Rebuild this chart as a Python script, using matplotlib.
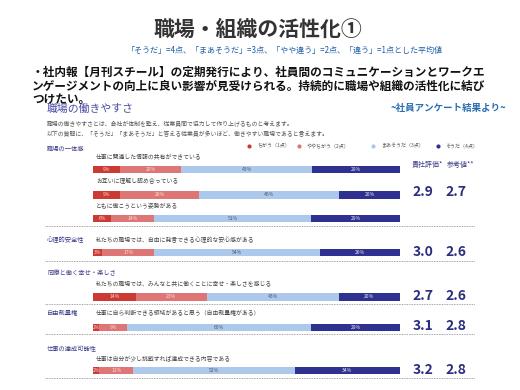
import matplotlib
matplotlib.use("Agg")
import matplotlib.pyplot as plt

plt.rcParams['font.family'] = ['Noto Sans CJK JP', 'DejaVu Sans']

# data
questions = [
    "仕事に関連した情報の共有ができている",
    "お互いに理解し認め合っている",
    "ともに働こうという姿勢がある",
    "私たちの職場では、自由に発言できる心理的な安心感がある",
    "私たちの職場では、みんなと共に働くことに幸せ・楽しさを感じる",
    "仕事に自ら判断できる領域があると思う（自由裁量権がある）",
    "仕事は自分が少し挑戦すれば達成できる内容である",
]
chigau = [9, 9, 6, 3, 14, 2, 2]
yaya_chigau = [20, 26, 14, 17, 23, 9, 11]
maa_souda = [43, 46, 51, 54, 43, 60, 52]
souda = [29, 20, 29, 26, 20, 29, 34]
legend_labels = ["ちがう（1点）", "ややちがう（2点）", "まあそうだ（3点）", "そうだ（4点）"]

categories = ["職場の一体感", "心理的安全性", "同僚と働く幸せ・楽しさ", "自由裁量権", "仕事の達成可能性"]
own_score = ["2.9", "3.0", "2.7", "3.1", "3.2"]
ref_score = ["2.7", "2.6", "2.6", "2.8", "2.8"]

# layout (pixel positions on the 520x390 slide)
bar_y = [169.5, 195, 218.5, 252.5, 297, 327.5, 370.5]
q_y = [157, 181, 206, 240, 284, 313, 359]
cat_y = [149, 240, 273, 313, 348]
score_y = [192, 252, 296, 326, 370]
sep_y = [226, 261, 304, 334, 378]

colors = ["#cc3b33", "#de7676", "#acc9ec", "#2f3191"]
label_colors = ["#f6d6d4", "#f8dede", "#4a5a78", "#e8e8f6"]

fig = plt.figure(figsize=(5.2, 3.9), dpi=100)
bg = fig.add_axes([0, 0, 1, 1])
bg.set_xlim(0, 520)
bg.set_ylim(390, 0)
bg.axis("off")

# header texts
bg.text(258, 29, "職場・組織の活性化①", fontsize=15, fontweight="bold",
        color="#333333", ha="center", va="center")
bg.text(285, 50, "「そうだ」=4点、「まあそうだ」=3点、「やや違う」=2点、「違う」=1点とした平均値",
        fontsize=5.8, color="#1f5fa8", ha="center", va="center")
para = ["・社内報【月刊スチール】の定期発行により、社員間のコミュニケーションとワークエ",
        "ンゲージメントの向上に良い影響が見受けられる。持続的に職場や組織の活性化に結び",
        "つけたい。"]
for i, line in enumerate(para):
    bg.text(32, 72 + i * 14, line, fontsize=8.4, fontweight="bold",
            color="#111111", ha="left", va="center")
bg.text(47, 109, "職場の働きやすさ", fontsize=7.8, color="#4b4ba5", ha="left", va="center")
bg.text(449, 108, "~社員アンケート結果より~", fontsize=6.8, fontweight="bold",
        color="#2a6db5", ha="center", va="center")
bg.text(47, 124, "職場の働きやすさとは、会社が体制を整え、従業員間で協力して作り上げるものと考えます。",
        fontsize=4.2, color="#555555", ha="left", va="center")
bg.text(47, 134, "以下の質問に、「そうだ」「まあそうだ」と答える従業員が多いほど、働きやすい職場であると言えます。",
        fontsize=4.2, color="#555555", ha="left", va="center")

# legend
leg_x = [249, 299, 373, 438]
for lx, lab, c in zip(leg_x, legend_labels, colors):
    bg.plot(lx, 146, "o", ms=3, color=c, mec="none")
    bg.text(lx + 8, 146, lab, fontsize=3.6, color="#555555", ha="left", va="center")

# category labels, questions, separators, scores
for cy, cat in zip(cat_y, categories):
    bg.text(47, cy, cat, fontsize=4.5, color="#3c3c8c", ha="left", va="center")
for qy, q in zip(q_y, questions):
    bg.text(96, qy, q, fontsize=4.2, color="#444444", ha="left", va="center")
for sy in sep_y:
    bg.plot([45, 475], [sy, sy], ls=(0, (1, 1)), lw=0.6, color="#888888")
bg.text(412, 165, "貴社評価*", fontsize=5, color="#3a3c8a", ha="left", va="center")
bg.text(447, 165, "参考値**", fontsize=5, color="#3a3c8a", ha="left", va="center")
for sy, a, b in zip(score_y, own_score, ref_score):
    bg.text(423, sy, a, fontsize=10, fontweight="bold", color="#2b2e7e", ha="center", va="center")
    bg.text(456, sy, b, fontsize=10, fontweight="bold", color="#2b2e7e", ha="center", va="center")

# stacked bars
ax = fig.add_axes([93 / 520, 0, 307 / 520, 1])
ax.set_xlim(0, 100)
ax.set_ylim(390, 0)
ax.axis("off")
series = [chigau, yaya_chigau, maa_souda, souda]
totals = [sum(v) for v in zip(*series)]
left = [0.0] * len(questions)
for vals, c, lc in zip(series, colors, label_colors):
    widths = [v / t * 100 for v, t in zip(vals, totals)]
    ax.barh(bar_y, widths, left=left, height=7.5, color=c)
    for y, l, w, v in zip(bar_y, left, widths, vals):
        ax.text(l + w / 2, y, f"{v}%", fontsize=3.6, color=lc, ha="center", va="center")
    left = [l + w for l, w in zip(left, widths)]

fig.savefig("out.png", dpi=100)
